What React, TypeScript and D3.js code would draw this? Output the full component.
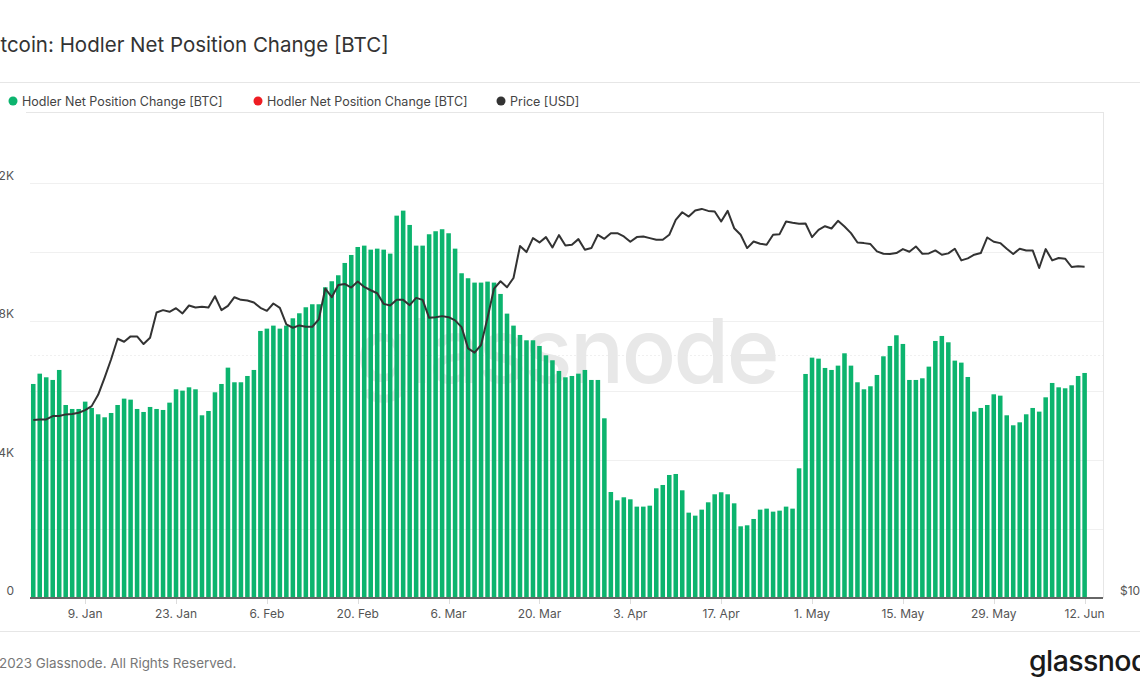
import React from "react";
import * as d3 from "d3";

const TITLE = "Bitcoin: Hodler Net Position Change [BTC]";
const LEGEND = ["Hodler Net Position Change [BTC]", "Hodler Net Position Change [BTC]", "Price [USD]"];
const LEGEND_COLORS = ["#0cb46e", "#ee1d23", "#333333"];
const START_DATE = Date.UTC(2023, 0, 1);
const TICK_DATES = ["2023-01-09", "2023-01-23", "2023-02-06", "2023-02-20", "2023-03-06", "2023-03-20", "2023-04-03", "2023-04-17", "2023-05-01", "2023-05-15", "2023-05-29", "2023-06-12"];
const LEFT_TICKS = [0, 4000, 8000, 12000];
const LEFT_LABELS = ["0", "4K", "8K", "12K"];
const GRID_TICKS = [2000, 4000, 6000, 8000, 10000, 12000];
const PRICE_GRID = [20000];

const netPosition = [
  6189, 6487, 6382, 6305, 6594, 5581, 5466, 5466, 5678, 5495,
  5312, 5225, 5350, 5581, 5765, 5736, 5466, 5379, 5524, 5466,
  5437, 5649, 6035, 5996, 6092, 6035, 5283, 5408, 5948, 6189,
  6661, 6238, 6238, 6420, 6594, 7722, 7789, 7876, 7789, 7876,
  8088, 8233, 8407, 8494, 8494, 8985, 9159, 9332, 9688, 9919,
  10150, 10189, 10073, 10102, 10073, 9958, 11056, 11201, 10787, 10189,
  10189, 10518, 10605, 10663, 10547, 10102, 9390, 9246, 9120, 9120,
  9149, 9120, 8792, 8223, 7876, 7606, 7452, 7452, 7288, 7018,
  6874, 6565, 6382, 6420, 6487, 6594, 6305, 6305, 5196, 3065,
  2825, 2912, 2854, 2642, 2642, 2670, 3172, 3268, 3557, 3586,
  3114, 2468, 2381, 2555, 2767, 2999, 3057, 2999, 2738, 2073,
  2102, 2285, 2555, 2584, 2497, 2526, 2642, 2584, 3750, 6478,
  6950, 6921, 6652, 6594, 6719, 7076, 6719, 6238, 6035, 6122,
  6449, 6989, 7288, 7597, 7346, 6305, 6305, 6353, 6690, 7432,
  7577, 7394, 6864, 6806, 6391, 5389, 5495, 5581, 5890, 5851,
  5283, 4994, 5080, 5312, 5495, 5389, 5803, 6218, 6092, 6064,
  6151, 6420, 6507,
];

const price = [
  16613, 16644, 16644, 16804, 16804, 16883, 16898, 16962, 17092, 17286,
  17852, 18754, 19757, 20950, 20772, 21091, 21091, 20636, 21011, 22580,
  22730, 22623, 22859, 22515, 23033, 22902, 22946, 22902, 23650, 22730,
  23010, 23584, 23406, 23361, 23229, 22880, 22686, 23164, 22880, 21822,
  21616, 21762, 21679, 21679, 22135, 24172, 23584, 24424, 24494, 24240,
  24658, 24286, 24057, 23853, 23140, 23033, 23406, 23406, 23054, 23537,
  23406, 22238, 22281, 22345, 22281, 22073, 21658, 20384, 20134, 20578,
  22238, 24172, 24680, 24265, 24915, 27286, 26824, 27913, 27571, 27994,
  27183, 28153, 27339, 27391, 27834, 27005, 27132, 28180, 27860, 28311,
  28311, 28046, 27624, 27994, 28046, 27913, 27782, 27782, 28180, 29405,
  30053, 29686, 30196, 30339, 30168, 30111, 29268, 30168, 28716, 28180,
  27132, 27649, 27467, 27391, 28180, 28233, 29268, 29159, 29074, 29102,
  27994, 28582, 28880, 28691, 29324, 28855, 28311, 27571, 27519, 27442,
  26875, 26698, 26671, 26749, 27055, 26852, 27260, 26698, 26724, 26952,
  26621, 26724, 27080, 26198, 26348, 26621, 26749, 27966, 27624, 27519,
  27080, 26671, 27080, 26952, 26952, 25632, 27055, 26198, 26372, 26322,
  25706, 25755, 25730,
];

const DAY = 86400000;
const FONT = "Inter, 'Noto Sans', sans-serif";

export default function App() {
  const W = 1140, H = 694;
  const left = 30, right = 1103, top = 112, bottom = 598;

  const dates = netPosition.map((_, i) => new Date(START_DATE + i * DAY));
  const x = d3.scaleUtc()
    .domain([new Date(START_DATE - 0.5 * DAY), new Date(Date.UTC(2023, 5, 14, 20))])
    .range([left, right]);
  const y = d3.scaleLinear().domain([0, 12000]).range([bottom, 183]);
  const yP = d3.scaleLog().domain([10000, 40000]).range([bottom, top]);

  const pitch = x(new Date(START_DATE + DAY)) - x(new Date(START_DATE));
  const bw = pitch * 0.7;

  const line = d3.line<number>()
    .x((_, i) => x(dates[i]))
    .y((d) => yP(d))
    .curve(d3.curveLinear);

  const fmt = d3.utcFormat("%-d. %b");
  const ticks = TICK_DATES.map((s) => new Date(s + "T00:00:00Z"));

  return (
    <div style={{ position: "absolute", left: 0, top: 0, width: W, height: H, overflow: "hidden", background: "#fff" }}>
      <svg width={W} height={H} style={{ display: "block", fontFamily: FONT }}>
        <rect x={0} y={0} width={W} height={H} fill="#fff" />
        <text x={-18} y={52} fontSize={20.5} fill="#333">{TITLE}</text>
        <line x1={0} x2={W} y1={82.5} y2={82.5} stroke="#e6e6e6" />

        {/* legend */}
        {[13, 258, 501].map((lx, i) => (
          <g key={i}>
            <circle cx={lx} cy={101} r={4.5} fill={LEGEND_COLORS[i]} />
            <text x={lx + 9} y={105.5} fontSize={12.5} fill="#444">{LEGEND[i]}</text>
          </g>
        ))}

        {/* gridlines */}
        <line x1={26} x2={right} y1={top + 0.5} y2={top + 0.5} stroke="#e6e6e6" />
        <line x1={right + 0.5} x2={right + 0.5} y1={top} y2={bottom} stroke="#e6e6e6" />
        {GRID_TICKS.map((t) => (
          <line key={t} x1={left} x2={right} y1={Math.round(y(t)) + 0.5} y2={Math.round(y(t)) + 0.5} stroke="#f0f0f0" />
        ))}
        {PRICE_GRID.map((t) => (
          <line key={t} x1={left} x2={right} y1={Math.round(yP(t)) + 0.5} y2={Math.round(yP(t)) + 0.5} stroke="#f0f0f0" strokeDasharray="2,2" />
        ))}

        {/* watermark */}
        <text x={(left + right) / 2} y={383} fontSize={90} fontWeight={500} fill="#e8e8e8" textAnchor="middle" letterSpacing={-2.5}>glassnode</text>

        {/* bars */}
        {netPosition.map((v, i) => (
          <rect key={i} x={x(dates[i]) - bw / 2} y={y(v)} width={bw} height={bottom - y(v)} fill="#0cb46e" />
        ))}

        {/* price */}
        <path d={line(price) || ""} fill="none" stroke="#333" strokeWidth={2} strokeLinejoin="round" />

        {/* x axis */}
        <line x1={left} x2={right} y1={bottom} y2={bottom} stroke="#666" strokeWidth={2} />
        {ticks.map((t, i) => (
          <g key={i}>
            <line x1={Math.round(x(t)) + 0.5} x2={Math.round(x(t)) + 0.5} y1={bottom + 1} y2={bottom + 6} stroke="#ddd" />
            <text x={x(t)} y={618} fontSize={12} fill="#555" textAnchor="middle">{fmt(t)}</text>
          </g>
        ))}

        {/* left axis labels */}
        {LEFT_TICKS.map((t, i) => (
          <text key={t} x={14} y={y(t) - 3} fontSize={12} fill="#555" textAnchor="end">{LEFT_LABELS[i]}</text>
        ))}
        {/* right axis label */}
        <text x={1120} y={bottom - 3} fontSize={12} fill="#555">$10k</text>

        {/* footer */}
        <line x1={0} x2={W} y1={631.5} y2={631.5} stroke="#e6e6e6" />
        <text x={-17} y={668} fontSize={13.4} fill="#777">© 2023 Glassnode. All Rights Reserved.</text>
        <text x={1029} y={671} fontSize={28.5} fontWeight={500} fill="#1a1a1a" letterSpacing={-0.6}>glassnode</text>
      </svg>
    </div>
  );
}
